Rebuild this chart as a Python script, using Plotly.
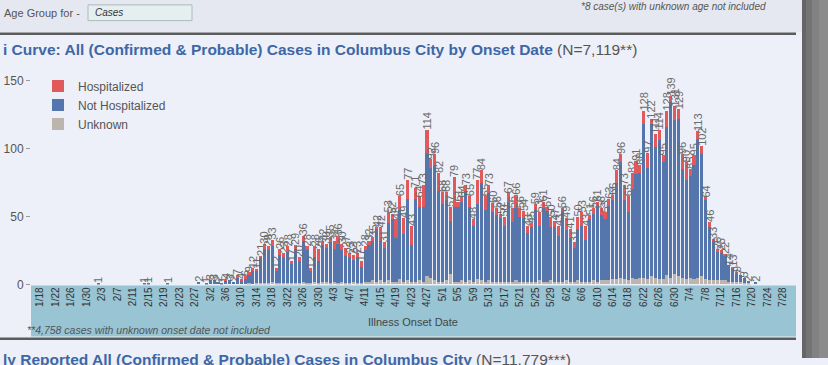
import plotly.graph_objects as go
import pandas as pd

W, H = 828, 365

# ---------------- data ----------------
early_dates = ["2020-02-02", "2020-02-14", "2020-02-15", "2020-02-20"]
early_total = [1, 1, 1, 1]
early_hospitalized = [0, 0, 0, 0]
early_unknown = [0, 0, 0, 0]

series_start = "2020-02-27"   # consecutive days from here
total = [
    0, 2, 0, 1, 3, 3, 2, 1, 4, 3, 2, 7, 4, 6, 9, 12, 11,
    21, 30, 28, 33, 12, 26, 23, 28, 17, 29, 20, 36, 28, 12,
    28, 26, 32, 30, 35, 32, 36, 30, 27, 23, 22, 23, 17, 28, 32, 35,
    42, 42, 31, 53, 52, 48, 65, 49, 77, 43, 71, 64, 73, 114,
    92, 96, 82, 68, 68, 57, 79, 61, 64, 73, 65, 48, 77, 84, 65, 73, 60, 56, 52, 50,
    67, 56, 66, 56, 54, 43, 45, 59, 53, 61, 57, 50, 47, 43, 56, 49, 41, 31, 50, 53,
    43, 51, 56, 61, 56, 53, 63, 66,
    84, 96, 73, 65, 82, 91, 88, 128, 97, 122, 111, 114, 95, 128, 139, 131, 129, 96,
    90, 85, 95, 113, 102,
    64, 46, 33, 26, 25, 22, 14, 13, 9, 7, 5, 2, 0, 2,
]
hospitalized = [
    0, 0, 0, 0, 0, 0, 0, 0, 1, 0, 0, 2, 1, 2, 2, 2, 1,
    1, 4, 3, 5, 2, 4, 3, 4, 2, 3, 3, 4, 3, 2,
    8, 9, 3, 3, 4, 6, 6, 5, 6, 3, 4, 3, 4, 3, 3, 3,
    1, 10, 4, 8, 4, 14, 10, 12, 14, 14, 8, 7, 16, 17,
    6, 8, 13, 9, 6, 10, 22, 4, 3, 4, 8, 5, 18, 9, 10, 6, 7, 5, 3, 7,
    6, 10, 10, 6, 5, 5, 3, 4, 10, 5, 3, 8, 5, 7, 2, 9, 7, 4, 9, 10,
    10, 3, 4, 3, 5, 5, 5, 4,
    9, 6, 11, 12, 12, 10, 6, 10, 11, 4, 10, 8, 5, 12, 5, 10, 7, 11,
    13, 5, 7, 6, 6,
    2, 4, 1, 2, 2, 1, 0, 1, 1, 0, 0, 0, 0, 0,
]
unknown = [
    0, 0, 0, 0, 0, 0, 0, 0, 0, 0, 0, 0, 0, 0, 1, 0, 1,
    1, 1, 1, 2, 1, 1, 1, 1, 1, 1, 1, 2, 1, 1,
    2, 1, 2, 2, 1, 2, 1, 2, 1, 1, 2, 1, 1, 2, 2, 3,
    2, 3, 2, 3, 2, 2, 4, 2, 3, 2, 2, 3, 2, 6,
    5, 3, 2, 2, 3, 8, 2, 2, 3, 2, 3, 2, 4, 3, 2, 3, 2, 2, 2, 2,
    2, 2, 3, 2, 2, 2, 2, 2, 3, 2, 2, 3, 2, 2, 2, 3, 2, 2, 3, 2,
    2, 2, 3, 2, 3, 3, 3, 4,
    4, 5, 4, 3, 5, 4, 5, 5, 4, 6, 5, 4, 4, 7, 5, 8, 6, 5,
    4, 5, 4, 5, 6,
    4, 3, 3, 3, 3, 3, 2, 2, 2, 2, 1, 1, 0, 0,
]

# ---------------- assemble ----------------
dates = early_dates + list(pd.date_range(series_start, periods=len(total)).strftime("%Y-%m-%d"))
tot = early_total + total
hos = early_hospitalized + hospitalized
unk = early_unknown + unknown
not_hos = [t - h - u for t, h, u in zip(tot, hos, unk)]
labels = [str(t) if t > 0 else "" for t in tot]

FONT = "Liberation Sans, Arial, sans-serif"
BG = "#edf0f8"
C_HOS = "#e05a5b"
C_NOT = "#5476ad"
C_UNK = "#bcb5ae"

fig = go.Figure()
fig.add_trace(go.Bar(x=dates, y=unk, name="Unknown", marker=dict(color=C_UNK, line=dict(width=0))))
fig.add_trace(go.Bar(x=dates, y=not_hos, name="Not Hospitalized", marker=dict(color=C_NOT, line=dict(width=0))))
fig.add_trace(go.Bar(
    x=dates, y=hos, name="Hospitalized", marker=dict(color=C_HOS, line=dict(width=0)),
    text=labels, textposition="outside", textangle=-90, constraintext="none",
    outsidetextfont=dict(size=11, color="#6a6a6a", family=FONT),
    cliponaxis=False,
))

def px(x):
    return x / W

def py(y):
    return 1 - y / H

shapes = [
    # top control strip
    dict(type="rect", xref="paper", yref="paper", x0=0, x1=px(802), y0=py(33), y1=1,
         fillcolor="#e5e8f0", line=dict(width=0), layer="below"),
    # input box
    dict(type="rect", xref="paper", yref="paper", x0=px(88), x1=px(192), y0=py(21), y1=py(5),
         fillcolor="#e6eff0", line=dict(width=1, color="#a9bcbc"), layer="below"),
    # separator lines
    dict(type="line", xref="paper", yref="paper", x0=0, x1=px(796), y0=py(34.5), y1=py(34.5),
         line=dict(width=2.5, color="#5c5c5c")),
    dict(type="line", xref="paper", yref="paper", x0=0, x1=px(796), y0=py(345.5), y1=py(345.5),
         line=dict(width=2.5, color="#5c5c5c")),
    # x-axis band
    dict(type="rect", xref="paper", yref="paper", x0=px(31), x1=px(796), y0=py(343), y1=py(291),
         fillcolor="#98c4d4", line=dict(width=0), layer="below"),
    # scrollbar at right
    dict(type="rect", xref="paper", yref="paper", x0=px(802), x1=px(806), y0=0, y1=1,
         fillcolor="#666666", line=dict(width=0)),
    dict(type="rect", xref="paper", yref="paper", x0=px(806), x1=px(812), y0=0, y1=1,
         fillcolor="#747474", line=dict(width=0)),
    dict(type="rect", xref="paper", yref="paper", x0=px(812), x1=px(819), y0=0, y1=1,
         fillcolor="#818181", line=dict(width=0)),
    dict(type="rect", xref="paper", yref="paper", x0=px(819), x1=1, y0=0, y1=1,
         fillcolor="#8b8b8b", line=dict(width=0)),
]

annotations = [
    dict(text="Age Group for -", x=px(2), y=py(13), xanchor="left", yanchor="middle",
         font=dict(size=11, color="#555555", family=FONT)),
    dict(text="<i>Cases</i>", x=px(93), y=py(13), xanchor="left", yanchor="middle",
         font=dict(size=10, color="#333333", family=FONT)),
    dict(text="<i>*8 case(s) with unknown age not included</i>", x=px(768), y=py(7), xanchor="right",
         yanchor="middle", font=dict(size=10, color="#555555", family=FONT)),
    dict(text="<b>i Curve: All (Confirmed &amp; Probable) Cases in Columbus City by Onset Date</b>"
              " <span style='color:#555555'>(N=7,119**)</span>",
         x=px(1), y=py(50), xanchor="left", yanchor="middle",
         font=dict(size=15.5, color="#3e67a6", family=FONT)),
    dict(text="Illness Onset Date", x=px(413), y=py(328), xanchor="center", yanchor="middle",
         font=dict(size=11, color="#444444", family=FONT)),
    dict(text="<i>**4,758 cases with unknown onset date not included</i>", x=px(25), y=py(336),
         xanchor="left", yanchor="middle", font=dict(size=10.5, color="#555555", family=FONT)),
    dict(text="<b>ly Reported All (Confirmed &amp; Probable) Cases in Columbus City</b>"
              " <span style='color:#555555'>(N=11,779***)</span>",
         x=px(1), y=py(367), xanchor="left", yanchor="middle",
         font=dict(size=15.5, color="#3e67a6", family=FONT)),
]
for a in annotations:
    a.update(xref="paper", yref="paper", showarrow=False)

fig.update_layout(
    width=W, height=H, autosize=False,
    margin=dict(l=0, r=0, t=0, b=0),
    paper_bgcolor=BG, plot_bgcolor="rgba(0,0,0,0)",
    barmode="stack", bargap=0.2,
    font=dict(family=FONT, color="#555555"),
    showlegend=True,
    legend=dict(x=px(38), y=py(73), xanchor="left", yanchor="top", traceorder="reversed",
                bgcolor="rgba(0,0,0,0)", font=dict(size=12, color="#555555", family=FONT),
                itemclick=False),
    xaxis=dict(
        type="date", domain=[px(31), px(796)],
        range=["2020-01-15 16:10", "2020-07-31 08:24"],
        tick0="2020-01-18", dtick=4 * 86400000, tickformat="%-m/%-d",
        tickangle=-90, tickfont=dict(size=10, color="#333333", family=FONT),
        ticks="", showgrid=False, zeroline=False, showline=False,
    ),
    yaxis=dict(
        domain=[py(290), py(68.4)], range=[0, 160],
        tickvals=[0, 50, 100, 150], ticks="outside", ticklen=4, tickcolor="#999999",
        tickfont=dict(size=12, color="#555555", family=FONT),
        showgrid=False, zeroline=False, showline=False,
    ),
    shapes=shapes, annotations=annotations,
    hovermode=False,
)

fig.write_html(
    "out.html",
    config=dict(displayModeBar=False, displaylogo=False),
    post_script="document.body.style.margin='0';document.body.style.overflow='hidden';",
)
